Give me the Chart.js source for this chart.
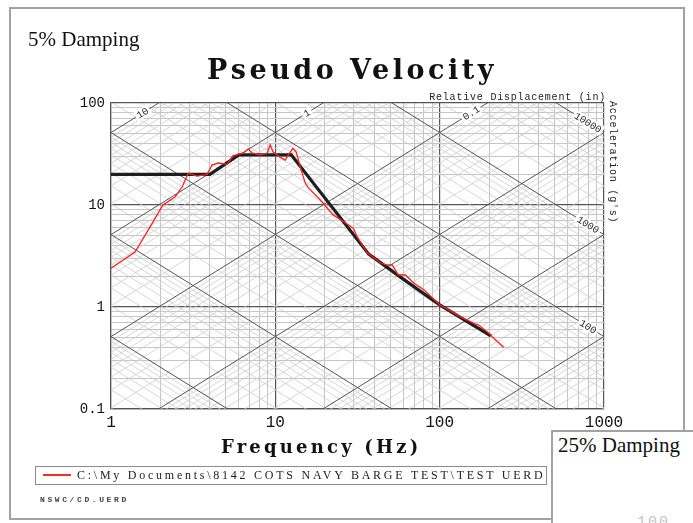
<!DOCTYPE html>
<html><head><meta charset="utf-8">
<script src="https://cdn.jsdelivr.net/npm/chart.js@4.4.1/dist/chart.umd.min.js"></script>
<style>
html,body{margin:0;padding:0;background:#fff;}
body{width:693px;height:523px;overflow:hidden;position:relative;}
#frame{position:absolute;left:9px;top:7px;width:676px;height:513px;border:2px solid #a2a2a2;box-sizing:border-box;}
#c{position:absolute;left:0;top:0;}
.t{position:absolute;white-space:nowrap;color:#111;}
#damp5{left:28px;top:27px;font:21px 'Liberation Serif',serif;}
#title{left:207px;top:54px;font:bold 27px 'DejaVu Serif',serif;letter-spacing:3.5px;}
#xtitle{left:221px;top:436px;font:bold 18px 'DejaVu Serif',serif;letter-spacing:3.2px;}
#legend{position:absolute;left:35px;top:466px;width:512px;height:19px;border:1.5px solid #8c8c8c;box-sizing:border-box;background:#fff;}
#legline{position:absolute;left:7px;top:7px;width:28px;height:2px;background:#ff2a2a;}
#legtext{position:absolute;left:41px;top:1px;font:12px 'Liberation Serif',serif;letter-spacing:2.75px;color:#222;white-space:nowrap;}
#nswc{left:40px;top:495px;font:bold 8px 'Liberation Mono',monospace;letter-spacing:2.6px;color:#444;}
#panel25{position:absolute;left:551px;top:430px;width:160px;height:110px;background:#fff;border-left:2px solid #a2a2a2;border-top:2px solid #a2a2a2;box-sizing:border-box;}
#damp25{left:5px;top:1px;font:21px 'Liberation Serif',serif;}
#p100{left:84px;top:82px;font:15px 'Liberation Mono',monospace;color:#c4c4c4;letter-spacing:2px;}
</style></head>
<body>
<div id="frame"></div>
<canvas id="c" width="693" height="523"></canvas>
<div class="t" id="damp5">5% Damping</div>
<div class="t" id="title">Pseudo Velocity</div>
<div class="t" id="xtitle">Frequency (Hz)</div>
<div id="legend"><div id="legline"></div><div id="legtext">C:\My Documents\8142 COTS NAVY BARGE TEST\TEST UERD</div></div>
<div class="t" id="nswc">NSWC/CD.UERD</div>
<div id="panel25"><div class="t" id="damp25">25% Damping</div><div class="t" id="p100">100</div></div>
<script>
// ---- data ----
const xDecades = [1, 10, 100, 1000];
const yDecades = [0.1, 1, 10, 100];
const xTickLabels = ['1', '10', '100', '1000'];
const yTickLabels = ['0.1', '1', '10', '100'];

const uerdFreq = [1.0, 1.4, 1.73, 2.07, 2.45, 2.71, 2.95, 3.34, 3.84, 4.12, 4.5, 5.1, 5.5, 6.4, 6.85, 7.2, 8.1, 8.9, 9.3, 9.7, 10.7, 11.5, 12.0, 12.8, 13.4, 14.2, 15.2, 15.9, 18.8, 22.5, 27.8, 29.9, 31.5, 36.3, 43.7, 48, 51.5, 56, 62, 69.5, 80.5, 100, 134, 165, 172, 195, 245];
const uerdVel  = [2.4, 3.46, 6.1, 10, 12, 15, 20.5, 19.2, 20, 24.6, 25.8, 25, 30.3, 32.4, 35.5, 32.4, 31, 32, 38.7, 33, 29.5, 27.6, 31, 36, 33, 23.5, 16.4, 14.7, 11.2, 8.0, 6.4, 5.9, 4.85, 3.4, 2.7, 2.58, 2.58, 2.06, 2.06, 1.72, 1.47, 1.05, 0.80, 0.68, 0.67, 0.57, 0.40];

const specFreq = [1, 4, 6, 12.5, 37, 58, 100, 205];
const specVel  = [20, 20, 31, 31, 3.3, 1.95, 1.05, 0.52];

const dispLabels  = ['10', '1', '0.1'];        // relative displacement (in) line labels
const dispValues  = [10, 1, 0.1];
const accelLabels = ['10000', '1000', '100'];  // acceleration line labels
const accelValues = [10000, 1000, 100];
const latticeV = 5.13;  // velocity at 1 Hz through which the heavy diagonals pass

// ---- helpers ----
const minorOf = decs => { const out = []; for (let i = 0; i < decs.length - 1; i++) for (let m = 1; m <= 9; m++) out.push(decs[i] * m); out.push(decs[decs.length - 1]); return out; };
const isDecade = (v, decs) => decs.some(d => Math.abs(v - d) / d < 1e-6);
const labelFor = (v, decs, labs) => { const i = decs.findIndex(d => Math.abs(v - d) / d < 1e-6); return i >= 0 ? labs[i] : ''; };
const pts = (xs, ys) => xs.map((f, i) => ({x: f, y: ys[i]}));

const tripartite = {
  id: 'tripartite',
  beforeDatasetsDraw(chart) {
    const {ctx, chartArea: a, scales: {x, y}} = chart;
    const px = f => x.getPixelForValue(f), py = v => y.getPixelForValue(v);
    ctx.save();
    ctx.beginPath(); ctx.rect(a.left, a.top, a.right - a.left, a.bottom - a.top); ctx.clip();
    const fa = 0.05, fb = 20000;
    const pass = heavy => {
      ctx.strokeStyle = heavy ? '#555' : '#cdcdcd';
      ctx.lineWidth = heavy ? 1 : 0.8;
      ctx.beginPath();
      for (let k = -7; k <= 7; k++) {
        for (let m = 1; m <= 9; m++) {
          if ((m === 1) !== heavy) continue;
          const s = m * Math.pow(10, k);
          // displacement family (rising)
          ctx.moveTo(px(fa), py(latticeV * s * fa)); ctx.lineTo(px(fb), py(latticeV * s * fb));
          // acceleration family (falling)
          ctx.moveTo(px(fa), py(latticeV * s / fa)); ctx.lineTo(px(fb), py(latticeV * s / fb));
        }
      }
      ctx.stroke();
    };
    pass(false); pass(true);
    ctx.restore();

    // line labels
    ctx.save();
    ctx.font = '10px "Liberation Mono", monospace';
    ctx.fillStyle = '#222';
    ctx.textAlign = 'center'; ctx.textBaseline = 'middle';
    const label = (cx, cy, ang, txt) => {
      ctx.save(); ctx.translate(cx, cy); ctx.rotate(ang);
      const w = ctx.measureText(txt).width;
      ctx.fillStyle = '#fff'; ctx.fillRect(-w / 2 - 2, -5, w + 4, 10);
      ctx.fillStyle = '#222'; ctx.fillText(txt, 0, 0.5);
      ctx.restore();
    };
    dispValues.forEach((D, i) => {
      const vy = y.getValueForPixel(a.top + 10);
      const f = vy / (latticeV * D);
      const ang = Math.atan2(py(latticeV * D * f * 2) - py(latticeV * D * f), px(f * 2) - px(f));
      label(px(f), py(vy), ang, dispLabels[i]);
    });
    accelValues.forEach((A, i) => {
      const f = x.getValueForPixel(a.right - 16);
      const v = latticeV * A / f;
      const ang = Math.atan2(py(latticeV * A / (f * 2)) - py(v), px(f * 2) - px(f));
      label(px(f), py(v), ang, accelLabels[i]);
    });
    // axis captions for the diagonal scales
    ctx.letterSpacing = '0.8px';
    ctx.textAlign = 'right'; ctx.textBaseline = 'alphabetic';
    ctx.fillText('Relative Displacement (in)', a.right + 2, a.top - 3);
    ctx.save();
    ctx.translate(a.right + 4, a.top - 2); ctx.rotate(Math.PI / 2);
    ctx.textAlign = 'left'; ctx.textBaseline = 'bottom';
    ctx.fillText("Acceleration (g's)", 0, 0);
    ctx.restore();
    ctx.restore();
  }
};

new Chart(document.getElementById('c'), {
  type: 'scatter',
  data: {
    datasets: [
      {label: 'C:\\My Documents\\8142 COTS NAVY BARGE TEST\\TEST UERD', data: pts(uerdFreq, uerdVel), showLine: true, borderColor: '#ff2020', borderWidth: 1.3, pointRadius: 0, tension: 0},
      {label: 'Spec', data: pts(specFreq, specVel), showLine: true, borderColor: '#1e1e1e', borderWidth: 3.2, pointRadius: 0, tension: 0}
    ]
  },
  options: {
    responsive: false, animation: false,
    layout: {padding: {left: 0, top: 103, right: 89, bottom: 84}},
    plugins: {legend: {display: false}, title: {display: false}, tooltip: {enabled: false}},
    scales: {
      x: {
        type: 'logarithmic', min: 1, max: 1000,
        afterBuildTicks: s => { s.ticks = minorOf(xDecades).map(v => ({value: v})); },
        afterFit: s => { s.height = 30; },
        ticks: {autoSkip: false, maxRotation: 0, padding: 4, color: '#111', font: {family: 'Liberation Mono', size: 16},
          callback: v => labelFor(v, xDecades, xTickLabels)},
        grid: {drawTicks: false, color: c => isDecade(c.tick.value, xDecades) ? '#555' : '#c6c6c6', lineWidth: c => isDecade(c.tick.value, xDecades) ? 1.2 : 1},
        border: {display: true, color: '#555', width: 1.2}
      },
      y: {
        type: 'logarithmic', min: 0.1, max: 100,
        afterBuildTicks: s => { s.ticks = minorOf(yDecades).map(v => ({value: v})); },
        afterFit: s => { s.width = 111; },
        ticks: {autoSkip: false, padding: 6, color: '#111', font: {family: 'Liberation Mono', size: 14},
          callback: v => labelFor(v, yDecades, yTickLabels)},
        grid: {drawTicks: false, color: c => isDecade(c.tick.value, yDecades) ? '#555' : '#c6c6c6', lineWidth: c => isDecade(c.tick.value, yDecades) ? 1.2 : 1},
        border: {display: true, color: '#555', width: 1.2}
      }
    }
  },
  plugins: [tripartite]
});
</script>
</body></html>
